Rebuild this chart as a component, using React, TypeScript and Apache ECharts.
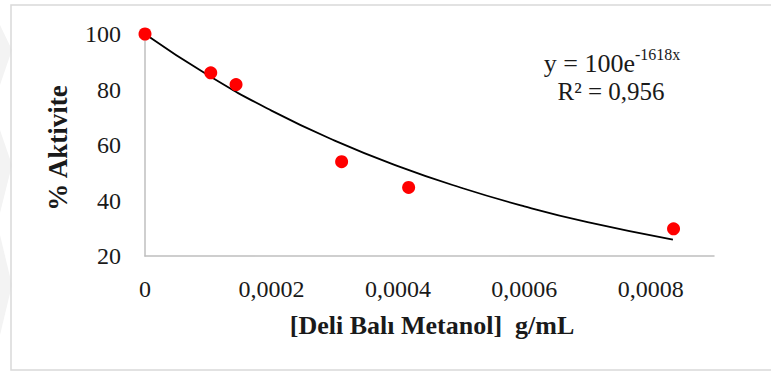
import React, { useEffect, useRef } from "react";
import * as echarts from "echarts";

const concentrations = [0, 0.000104, 0.000144, 0.000311, 0.000417, 0.000836];
const activity = [100, 86.0, 81.8, 54.0, 44.7, 29.8];

const trendX = [0, 0.0001, 0.0002, 0.0003, 0.0004, 0.0005, 0.0006, 0.0007, 0.000835];
const trendY = [100, 85.1, 72.4, 61.6, 52.4, 44.6, 37.9, 32.2, 25.9];

const xTicks = [0, 0.0002, 0.0004, 0.0006, 0.0008];
const yTicks = [20, 40, 60, 80, 100];

const equationText = "y = 100e";
const exponentText = "-1618x";
const r2Text = "R² = 0,956";
const yTitle = "% Aktivite";
const xTitle = "[Deli Balı Metanol]  g/mL";

const FONT = "'Liberation Serif', 'Times New Roman', serif";

export default function App() {
  const ref = useRef<HTMLDivElement>(null);
  useEffect(() => {
    if (!ref.current) return;
    const chart = echarts.init(ref.current, undefined, { renderer: "svg" });
    const fmt = (v: number) => {
      const match = xTicks.find((t) => Math.abs(t - v) < 1e-9);
      if (match === undefined) return "";
      return match === 0 ? "0" : match.toFixed(4).replace(".", ",");
    };
    chart.setOption({
      animation: false,
      backgroundColor: "#ffffff",
      grid: { left: 145, top: 34, width: 569, height: 222, containLabel: false },
      xAxis: {
        type: "value",
        min: 0,
        max: 0.0009,
        interval: 0.0002,
        axisLine: { show: true, onZero: false, lineStyle: { color: "#bfbfbf", width: 1.5 } },
        axisTick: { show: false },
        splitLine: { show: false },
        axisLabel: {
          showMaxLabel: false,
          formatter: fmt,
          color: "#1a1a1a",
          fontFamily: FONT,
          fontSize: 24,
          margin: 21,
        },
      },
      yAxis: {
        type: "value",
        min: yTicks[0],
        max: yTicks[yTicks.length - 1],
        interval: 20,
        axisLine: { show: true, lineStyle: { color: "#bfbfbf", width: 1.5 } },
        axisTick: { show: false },
        splitLine: { show: false },
        axisLabel: {
          color: "#1a1a1a",
          fontFamily: FONT,
          fontSize: 24,
          margin: 24,
        },
      },
      graphic: [
        {
          type: "polygon",
          shape: { points: [[0, 25], [12, 50], [0, 85]] },
          style: { fill: "#f3f3f3" },
          z: 0,
        },
        {
          type: "polygon",
          shape: { points: [[0, 130], [12, 165], [0, 213]] },
          style: { fill: "#f3f3f3" },
          z: 0,
        },
        {
          type: "polygon",
          shape: { points: [[0, 235], [12, 285], [0, 335]] },
          style: { fill: "#f3f3f3" },
          z: 0,
        },
        {
          type: "rect",
          shape: { x: 11, y: 5, width: 780, height: 365 },
          style: { fill: "none", stroke: "#d9d9d9", lineWidth: 1.5 },
          z: 0,
        },
        {
          type: "text",
          x: 58,
          y: 148,
          rotation: Math.PI / 2,
          style: {
            text: yTitle,
            font: `bold 27px ${FONT}`,
            fill: "#1a1a1a",
            align: "center",
            verticalAlign: "middle",
          },
        },
        {
          type: "text",
          x: 432,
          y: 325,
          style: {
            text: xTitle,
            font: `bold 26px ${FONT}`,
            fill: "#1a1a1a",
            align: "center",
            verticalAlign: "middle",
          },
        },
        {
          type: "text",
          x: 635,
          y: 63,
          style: {
            text: equationText,
            font: `26px ${FONT}`,
            fill: "#1a1a1a",
            align: "right",
            verticalAlign: "middle",
          },
        },
        {
          type: "text",
          x: 635,
          y: 54,
          style: {
            text: exponentText,
            font: `16px ${FONT}`,
            fill: "#1a1a1a",
            align: "left",
            verticalAlign: "middle",
          },
        },
        {
          type: "text",
          x: 611,
          y: 91,
          style: {
            text: r2Text,
            font: `25px ${FONT}`,
            fill: "#1a1a1a",
            align: "center",
            verticalAlign: "middle",
          },
        },
      ],
      series: [
        {
          type: "line",
          data: trendX.map((x, i) => [x, trendY[i]]),
          smooth: true,
          showSymbol: false,
          lineStyle: { color: "#000000", width: 1.8 },
          z: 2,
        },
        {
          type: "scatter",
          data: concentrations.map((x, i) => [x, activity[i]]),
          symbolSize: 13,
          itemStyle: { color: "#ff0000", opacity: 1 },
          z: 3,
        },
      ],
    });
    return () => chart.dispose();
  }, []);
  return <div ref={ref} style={{ width: 771, height: 372, position: "absolute", left: 0, top: 0 }} />;
}
